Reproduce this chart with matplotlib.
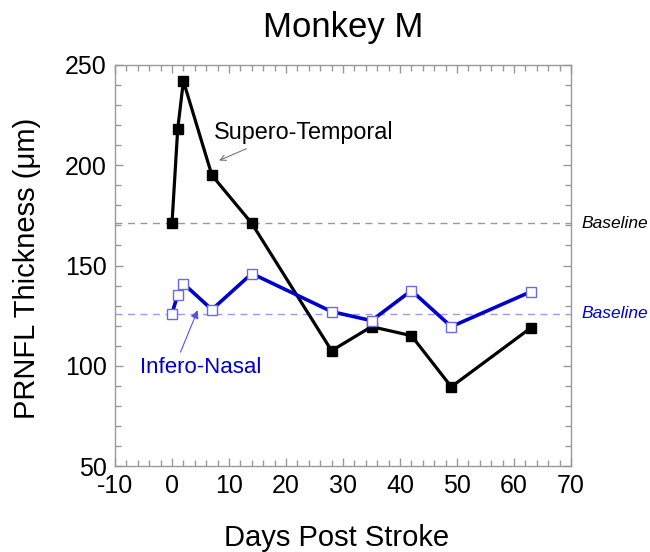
import matplotlib.pyplot as plt
from matplotlib.ticker import MultipleLocator

plt.rcParams['font.family'] = ['Liberation Sans', 'DejaVu Sans']
plt.rcParams['axes.unicode_minus'] = False

# data
days_st = [0, 1, 2, 7, 14, 28, 35, 42, 49, 63]
st = [171, 218, 242, 195, 171, 107.5, 119.5, 115, 89.5, 119]
days_in = [0, 1, 2, 7, 14, 28, 35, 42, 49, 63]
inn = [126, 135.5, 141, 128, 146, 127, 122.5, 137.5, 119.5, 137]
baseline_st = 171
baseline_in = 126

W, H = 650, 552
fig = plt.figure(figsize=(W / 100, H / 100), dpi=100)
ax = fig.add_axes([115 / W, 1 - 466 / H, 456 / W, 401 / H])

# baselines
ax.axhline(baseline_st, color='#999999', lw=1, ls=(0, (5, 4)), zorder=1)
ax.axhline(baseline_in, color='#9a9aee', lw=1, ls=(0, (5, 4)), zorder=1)

ax.plot(days_st, st, color='black', lw=2.3, marker='s', ms=6.5,
        mfc='black', mec='black', zorder=3)
ax.plot(days_in, inn, color='#0000cc', lw=2.6, marker='s', ms=7,
        mfc='white', mec='#6a6ae6', mew=1, zorder=3)

ax.set_xlim(-10, 70)
ax.set_ylim(50, 250)
ax.xaxis.set_major_locator(MultipleLocator(10))
ax.xaxis.set_minor_locator(MultipleLocator(2))
ax.yaxis.set_major_locator(MultipleLocator(50))
ax.yaxis.set_minor_locator(MultipleLocator(10))
ax.tick_params(which='both', direction='in', top=True, right=True,
               color='#999999', width=1)
ax.tick_params(which='major', length=6, labelsize=18, pad=6)
ax.tick_params(which='minor', length=4)
for s in ax.spines.values():
    s.set_color('#999999')
    s.set_linewidth(1)

# labels on the lines
ax.text(23.1, 213.1, 'Supero-Temporal', fontsize=16.8, ha='center',
        va='baseline')
ax.annotate('', xy=(7.8, 201.8), xytext=(13.5, 208.8),
            arrowprops=dict(arrowstyle='->', color='#777777', lw=0.8))
ax.text(5.0, 96.2, 'Infero-Nasal', fontsize=16, color='#0000cc',
        ha='center', va='baseline')
ax.annotate('', xy=(4.7, 129), xytext=(1.3, 105.5),
            arrowprops=dict(arrowstyle='-|>', color='#5555dd', lw=0.8,
                            mutation_scale=12))

ax.text(71.9, baseline_st, 'Baseline', fontsize=12.5, style='italic',
        ha='left', va='center', clip_on=False)
ax.text(71.9, baseline_in, 'Baseline', fontsize=12.5, style='italic',
        color='#0000cc', ha='left', va='center', clip_on=False)

fig.text(343 / W, 1 - 37.5 / H, 'Monkey M', fontsize=25, ha='center',
         va='baseline')
fig.text(337 / W, 1 - 546 / H, 'Days Post Stroke', fontsize=21,
         ha='center', va='baseline')
fig.text(27 / W, 1 - 268 / H, 'PRNFL Thickness (\u03bcm)', fontsize=21,
         rotation=90, ha='center', va='center')

fig.savefig('out.png', dpi=100)
